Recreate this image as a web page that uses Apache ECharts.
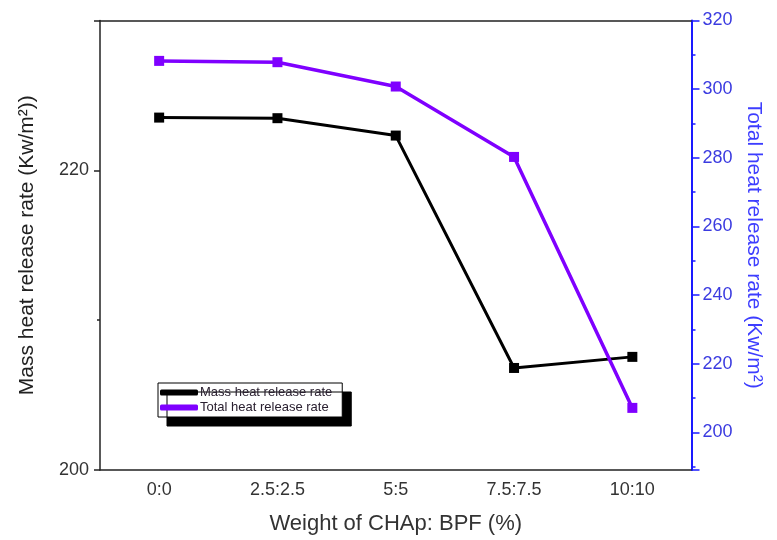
<!DOCTYPE html>
<html>
<head>
<meta charset="utf-8">
<script src="https://cdn.jsdelivr.net/npm/echarts@6/dist/echarts.min.js"></script>
<style>
html,body{margin:0;padding:0;background:#fff;}
#c{width:777px;height:540px;}
</style>
</head>
<body>
<div id="c"></div>
<script>
const categories = ['0:0', '2.5:2.5', '5:5', '7.5:7.5', '10:10'];
const massHRR = [223.52, 223.48, 222.32, 206.81, 207.55];
const totalHRR = [308.23, 307.85, 300.76, 280.24, 207.1];
const seriesNames = ['Mass heat release rate', 'Total heat release rate'];
const xName = 'Weight of CHAp: BPF (%)';
const leftName = 'Mass heat release rate (Kw/m\u00B2))';
const rightName = 'Total heat release rate (Kw/m\u00B2)';

const FONT = '"Liberation Sans", Arial, sans-serif';
const chart = echarts.init(document.getElementById('c'), null, {renderer: 'canvas'});
chart.setOption({
  animation: false,
  backgroundColor: '#fff',
  textStyle: {fontFamily: FONT},
  grid: {left: 100, right: 85.5, top: 20.5, bottom: 68.5, containLabel: false},
  legend: {
    orient: 'vertical',
    left: 158, top: 383,
    padding: [3, 10, 3, 2],
    itemGap: 2,
    itemWidth: 38, itemHeight: 6,
    icon: 'roundRect',
    backgroundColor: '#fff',
    borderColor: '#000', borderWidth: 1,
    shadowColor: '#000', shadowBlur: 0, shadowOffsetX: 9, shadowOffsetY: 9,
    textStyle: {fontFamily: FONT, fontSize: 13, color: '#2a2030', padding: [0, 0, 0, -3]},
    data: seriesNames
  },
  xAxis: [
    {
      type: 'category', position: 'bottom', data: categories, boundaryGap: true,
      axisLine: {lineStyle: {color: '#222', width: 1.5}},
      axisTick: {alignWithLabel: true, length: 7, lineStyle: {color: '#222', width: 1.5}},
      axisLabel: {fontFamily: FONT, fontSize: 18, color: '#333', margin: 11},
      name: xName, nameLocation: 'middle', nameGap: 43,
      nameTextStyle: {fontFamily: FONT, fontSize: 22, color: '#333'},
      splitLine: {show: false}
    },
    {
      type: 'category', position: 'bottom', data: categories, boundaryGap: true,
      axisLine: {show: false},
      axisTick: {length: 4, lineStyle: {color: '#222', width: 1.5}},
      axisLabel: {show: false},
      splitLine: {show: false}
    },
    {
      type: 'category', position: 'top', data: categories, boundaryGap: true,
      axisLine: {lineStyle: {color: '#222', width: 1.5}},
      axisTick: {alignWithLabel: true, inside: true, length: 5, lineStyle: {color: '#222', width: 1.5}},
      axisLabel: {show: false},
      splitLine: {show: false}
    }
  ],
  yAxis: [
    {
      type: 'value', position: 'left', min: 200, max: 230, interval: 20,
      axisLine: {show: true, lineStyle: {color: '#222', width: 1.5}},
      axisTick: {show: true, length: 6, lineStyle: {color: '#222', width: 1.5}},
      minorTick: {show: true, splitNumber: 2, length: 3, lineStyle: {color: '#222', width: 1.5}},
      axisLabel: {fontFamily: FONT, fontSize: 18, color: '#333', margin: 11, showMaxLabel: false},
      splitLine: {show: false},
      name: leftName, nameLocation: 'middle', nameGap: 62,
      nameTextStyle: {fontFamily: FONT, fontSize: 21, color: '#222'}
    },
    {
      type: 'value', position: 'right', min: 189, max: 320, splitNumber: 7,
      axisLine: {show: true, lineStyle: {color: '#1a1aff', width: 2}},
      axisTick: {show: true, length: 8, lineStyle: {color: '#1a1aff', width: 1.5}},
      minorTick: {show: true, splitNumber: 2, length: 4, lineStyle: {color: '#1a1aff', width: 1.5}},
      axisLabel: {fontFamily: FONT, fontSize: 18, color: '#3b3be0', margin: 11, showMinLabel: false},
      splitLine: {show: false},
      name: rightName, nameLocation: 'middle', nameGap: 38, nameRotate: -90,
      nameTextStyle: {fontFamily: FONT, fontSize: 21, color: '#3d3dff'}
    }
  ],
  series: [
    {
      name: seriesNames[0], type: 'line', xAxisIndex: 0, yAxisIndex: 0,
      data: massHRR, symbol: 'rect', symbolSize: 10,
      itemStyle: {color: '#000'}, lineStyle: {color: '#000', width: 3}
    },
    {
      name: seriesNames[1], type: 'line', xAxisIndex: 0, yAxisIndex: 1,
      data: totalHRR, symbol: 'rect', symbolSize: 10,
      itemStyle: {color: '#7f00ff'}, lineStyle: {color: '#7f00ff', width: 3.5}
    }
  ]
});
</script>
</body>
</html>
